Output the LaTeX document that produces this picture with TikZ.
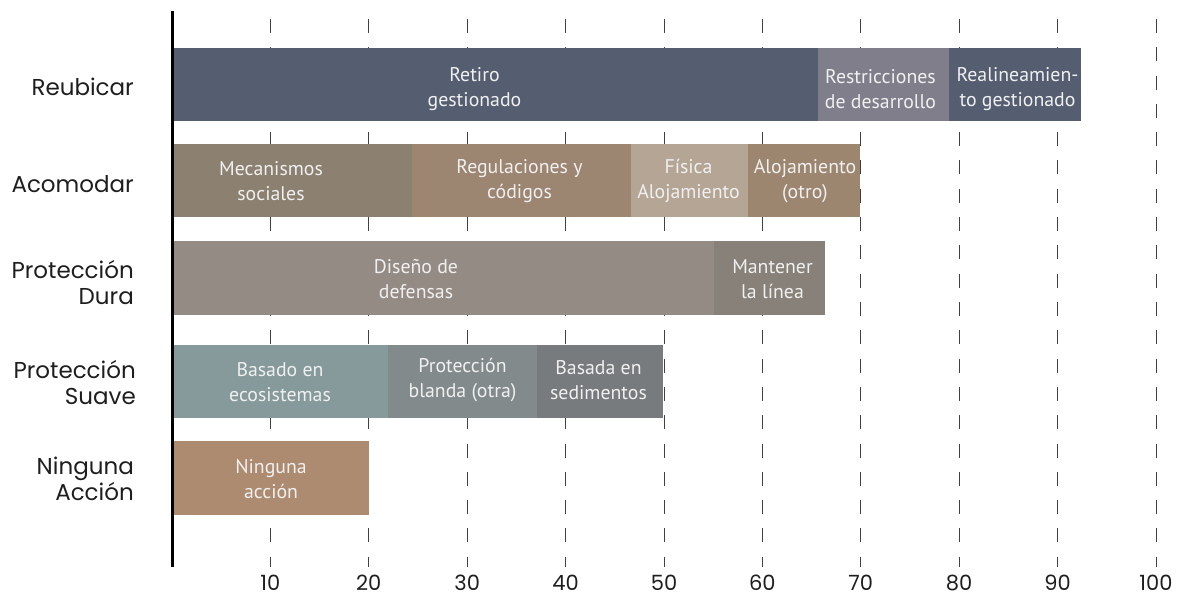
\documentclass[tikz,border=0pt]{standalone}
\usepackage{fontspec}
\setmainfont{PT Sans}
\newfontfamily\labfont{Poppins}
\definecolor{cslate}{HTML}{555E70}
\definecolor{crestr}{HTML}{817E8C}
\definecolor{cmeca}{HTML}{8C8070}
\definecolor{cregu}{HTML}{9C8571}
\definecolor{cfis}{HTML}{B5A595}
\definecolor{caloj}{HTML}{9C8670}
\definecolor{cdise}{HTML}{958B85}
\definecolor{cmant}{HTML}{878179}
\definecolor{ceco}{HTML}{869A9C}
\definecolor{cblan}{HTML}{838A8C}
\definecolor{csedi}{HTML}{777B7D}
\definecolor{cning}{HTML}{AD8B70}
\definecolor{ctxt}{HTML}{1E1E1E}
\tikzset{
  seg/.style={rectangle, inner sep=0pt, outer sep=0pt, draw=none, anchor=south west},
  segtext/.style={text=white!94!black, align=center, font=\fontsize{19.8}{24.5}\selectfont, inner sep=0pt},
  rowlab/.style={text=ctxt, align=right, anchor=east, font=\labfont\fontsize{23}{26}\selectfont, inner sep=0pt},
  ticklab/.style={text=ctxt, font=\labfont\fontsize{21}{24}\selectfont, inner sep=0pt},
  grid/.style={draw=black!75, line width=0.9pt, dash pattern=on 14pt off 14.3pt}
}
\begin{document}
\begin{tikzpicture}[x=1pt,y=-1pt]
\useasboundingbox (0,0) rectangle (1186,596);
% grid lines
\foreach \k in {1,...,10} {
  \coordinate (gt\k) at ({172+98.4*\k},19);
  \coordinate (gb\k) at ({172+98.4*\k},567);
  \draw[grid] (gt\k) -- (gb\k);
  \node[ticklab] (tl\k) at ({172+98.4*\k},583) {\the\numexpr\k*10\relax};
}
% Reubicar
\node[seg, fill=cslate, minimum width=646, minimum height=73.5] (r1) at (172,121.5) {};
\node[seg, fill=crestr, minimum width=131, minimum height=73.5] (r2) at (818,121.5) {};
\node[seg, fill=cslate, minimum width=132, minimum height=73.5] (r3) at (949,121.5) {};
\node[segtext] (r1t) at (474.5,89) {Retiro\\gestionado};
\node[segtext] (r2t) at (880.5,89) {Restricciones\\de desarrollo};
\node[segtext] (r3t) at (1017.5,89) {Realineamien-\\to gestionado};
% Acomodar
\node[seg, fill=cmeca, minimum width=240, minimum height=73] (a1) at (172,217.5) {};
\node[seg, fill=cregu, minimum width=219, minimum height=73] (a2) at (412,217.5) {};
\node[seg, fill=cfis, minimum width=117, minimum height=73] (a3) at (631,217.5) {};
\node[seg, fill=caloj, minimum width=112, minimum height=73] (a4) at (748,217.5) {};
\node[segtext] (a1t) at (271,181) {Mecanismos\\sociales};
\node[segtext] (a2t) at (519.5,181) {Regulaciones y\\códigos};
\node[segtext] (a3t) at (688.5,181) {Física\\Alojamiento};
\node[segtext] (a4t) at (805,181) {Alojamiento\\(otro)};
% Proteccion Dura
\node[seg, fill=cdise, minimum width=542, minimum height=73.5] (d1) at (172,314.5) {};
\node[seg, fill=cmant, minimum width=111, minimum height=73.5] (d2) at (714,314.5) {};
\node[segtext] (d1t) at (416,279) {Diseño de\\defensas};
\node[segtext] (d2t) at (772.5,279) {Mantener\\la línea};
% Proteccion Suave
\node[seg, fill=ceco, minimum width=216, minimum height=73] (s1) at (172,417.5) {};
\node[seg, fill=cblan, minimum width=149, minimum height=73] (s2) at (388,417.5) {};
\node[seg, fill=csedi, minimum width=126, minimum height=73] (s3) at (537,417.5) {};
\node[segtext] (s1t) at (280,382) {Basado en\\ecosistemas};
\node[segtext] (s2t) at (462.5,380) {Protección\\blanda (otra)};
\node[segtext] (s3t) at (598.5,380) {Basada en\\sedimentos};
% Ninguna
\node[seg, fill=cning, minimum width=197, minimum height=73.5] (n1) at (172,514.5) {};
\node[segtext] (n1t) at (271,479) {Ninguna\\acción};
% axis
\coordinate (axt) at (172.7,11.5);
\coordinate (axb) at (172.7,567);
\draw[line width=2.6pt, black] (axt) -- (axb);
% row labels
\node[rowlab] (l1) at (134,87) {Reubicar};
\node[rowlab] (l2) at (134,184) {Acomodar};
\node[rowlab] (l3) at (134,283) {Protección\\Dura};
\node[rowlab] (l4) at (136,383) {Protección\\Suave};
\node[rowlab] (l5) at (134,479) {Ninguna\\Acción};
\end{tikzpicture}
\end{document}
